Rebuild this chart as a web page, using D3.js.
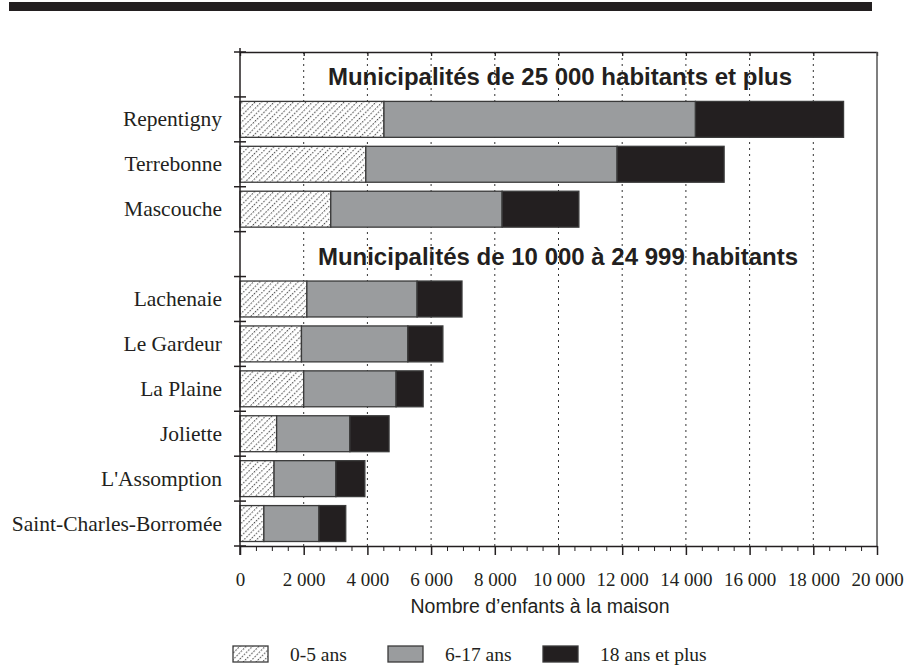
<!DOCTYPE html>
<html>
<head>
<meta charset="utf-8">
<script src="https://cdn.jsdelivr.net/npm/d3@7"></script>
<style>
  body { margin: 0; background: #fff; }
  svg { display: block; }
</style>
</head>
<body>
<svg width="922" height="666"></svg>
<script>
// rows of the chart, heading rows included
var rows = ['h1', 'Repentigny', 'Terrebonne', 'Mascouche', 'h2', 'Lachenaie', 'Le Gardeur', 'La Plaine', 'Joliette', "L'Assomption", 'Saint-Charles-Borromée']
var headings = { h1: 'Municipalités de 25 000 habitants et plus', h2: 'Municipalités de 10 000 à 24 999 habitants' }

var cities = ['Repentigny', 'Terrebonne', 'Mascouche', 'Lachenaie', 'Le Gardeur', 'La Plaine', 'Joliette', "L'Assomption", 'Saint-Charles-Borromée']
var age0to5 = [4520, 3950, 2850, 2100, 1930, 2000, 1150, 1070, 750]
var age6to17 = [9780, 7890, 5380, 3460, 3340, 2900, 2300, 1940, 1730]
var age18plus = [4650, 3360, 2410, 1410, 1100, 850, 1230, 910, 840]

var seriesKeys = ['a', 'b', 'c']
var seriesNames = ['0-5 ans', '6-17 ans', '18 ans et plus']
var xTicks = [0, 2000, 4000, 6000, 8000, 10000, 12000, 14000, 16000, 18000, 20000]

var svg = d3.select('svg')
var mLeft = 240, mRight = 877, mTop = 52, mBottom = 546

var fr = d3.formatLocale({ decimal: ',', thousands: '\u00a0', grouping: [3], currency: ['', ''] })
var fmt = fr.format(',')

var defs = svg.append('defs')
var pat = defs.append('pattern')
    .attr('id', 'dots')
    .attr('patternUnits', 'userSpaceOnUse')
    .attr('width', 4.5)
    .attr('height', 3)
    .attr('patternTransform', 'rotate(45)')
pat.append('rect').attr('width', 4.5).attr('height', 3).attr('fill', '#fff')
pat.append('rect').attr('x', 0).attr('y', 0).attr('width', 1.1).attr('height', 1.5).attr('fill', '#4a4a4a')

var colors = { a: 'url(#dots)', b: '#9a9c9e', c: '#231f20' }

var x = d3.scaleLinear().domain([0, 20000]).range([mLeft, mRight])
var y = d3.scaleBand().domain(rows).range([mTop, mBottom]).paddingInner(0.2).paddingOuter(0.1)

var data = cities.map((c, i) => {
    return { city: c, a: age0to5[i], b: age6to17[i], c: age18plus[i] }
})
var stacked = d3.stack().keys(seriesKeys)(data)

// top black rule
svg.append('rect')
    .attr('x', 9).attr('y', 2).attr('width', 863).attr('height', 9)
    .attr('fill', '#231f20')

// dotted grid
svg.append('g')
    .selectAll('line')
    .data(xTicks.slice(1, -1))
    .enter()
    .append('line')
    .attr('x1', d => x(d)).attr('x2', d => x(d))
    .attr('y1', mTop).attr('y2', mBottom)
    .attr('stroke', '#333')
    .attr('stroke-width', 1)
    .attr('stroke-dasharray', '2,4')

// bars
svg.append('g')
    .selectAll('g')
    .data(stacked)
    .enter()
    .append('g')
    .attr('fill', d => colors[d.key])
    .selectAll('rect')
    .data(d => d)
    .enter()
    .append('rect')
    .attr('x', d => x(d[0]))
    .attr('y', d => y(d.data.city))
    .attr('width', d => x(d[1]) - x(d[0]))
    .attr('height', y.bandwidth())
    .attr('stroke', '#3a3a3a')
    .attr('stroke-width', 1.3)

// headings
svg.append('g')
    .selectAll('text')
    .data(['h1', 'h2'])
    .enter()
    .append('text')
    .attr('x', (d, i) => i == 0 ? 560 : 558)
    .attr('y', d => y(d) + y.bandwidth() / 2 + 11)
    .attr('text-anchor', 'middle')
    .attr('font-family', 'Liberation Sans, Arial, sans-serif')
    .attr('font-weight', 'bold')
    .attr('font-size', 24)
    .attr('fill', '#231f20')
    .text(d => headings[d])

// city labels
svg.append('g')
    .selectAll('text')
    .data(cities)
    .enter()
    .append('text')
    .attr('x', 222)
    .attr('y', d => y(d) + y.bandwidth() / 2 + 7)
    .attr('text-anchor', 'end')
    .attr('font-family', 'Liberation Serif, Times New Roman, serif')
    .attr('font-size', 21.5)
    .attr('fill', '#231f20')
    .text(d => d)

// frame: top and right
var topAxis = svg.append('g')
    .attr('transform', 'translate(0,' + mTop + ')')
    .call(d3.axisBottom(x).tickValues(xTicks).tickSize(4).tickSizeOuter(0).tickFormat(''))
topAxis.selectAll('path, line').attr('stroke', '#231f20').attr('stroke-width', 1.3)

svg.append('line')
    .attr('x1', mRight).attr('x2', mRight).attr('y1', mTop).attr('y2', mBottom)
    .attr('stroke', '#555').attr('stroke-width', 1.5)

// left axis with row separators
var sepIdx = d3.range(rows.length + 1)
var sep = d3.scaleLinear().domain([0, rows.length]).range([mTop, mBottom])
svg.append('line')
    .attr('x1', mLeft).attr('x2', mLeft).attr('y1', mTop - 4).attr('y2', mBottom + 9)
    .attr('stroke', '#231f20').attr('stroke-width', 1.5)
svg.append('g')
    .selectAll('line')
    .data(sepIdx)
    .enter()
    .append('line')
    .attr('x1', mLeft - 6).attr('x2', mLeft + 6)
    .attr('y1', d => sep(d)).attr('y2', d => sep(d))
    .attr('stroke', '#231f20').attr('stroke-width', 1.5)

// bottom axis
var minor = d3.range(500, 20000, 500).filter(d => d % 2000 != 0)
var minorAxis = svg.append('g')
    .attr('transform', 'translate(0,' + mBottom + ')')
    .call(d3.axisBottom(x).tickValues(minor).tickSize(5).tickSizeOuter(0).tickFormat(''))
minorAxis.selectAll('line').attr('stroke', '#231f20')
minorAxis.select('.domain').remove()

var xAxis = svg.append('g')
    .attr('transform', 'translate(0,' + mBottom + ')')
    .call(d3.axisBottom(x).tickValues(xTicks).tickSize(9).tickSizeOuter(0).tickPadding(18).tickFormat(fmt))
xAxis.selectAll('path, line').attr('stroke', '#231f20').attr('stroke-width', 1.5)
xAxis.selectAll('text')
    .attr('font-family', 'Liberation Serif, Times New Roman, serif')
    .attr('font-size', 19)
    .attr('fill', '#231f20')

svg.append('text')
    .attr('x', 540)
    .attr('y', 613)
    .attr('text-anchor', 'middle')
    .attr('font-family', 'Liberation Sans, Arial, sans-serif')
    .attr('font-size', 19.5)
    .attr('fill', '#231f20')
    .text('Nombre d\u2019enfants à la maison')

// legend
var legendX = [233, 388, 543]
var legend = svg.append('g')
    .selectAll('g')
    .data(seriesKeys)
    .enter()
    .append('g')
    .attr('transform', (d, i) => 'translate(' + legendX[i] + ',646)')
legend.append('rect')
    .attr('width', 35).attr('height', 16)
    .attr('fill', d => colors[d])
    .attr('stroke', '#3a3a3a').attr('stroke-width', 1.3)
legend.append('text')
    .attr('x', 57).attr('y', 15)
    .attr('font-family', 'Liberation Serif, Times New Roman, serif')
    .attr('font-size', 19.5)
    .attr('fill', '#231f20')
    .text((d, i) => seriesNames[i])
</script>
</body>
</html>
